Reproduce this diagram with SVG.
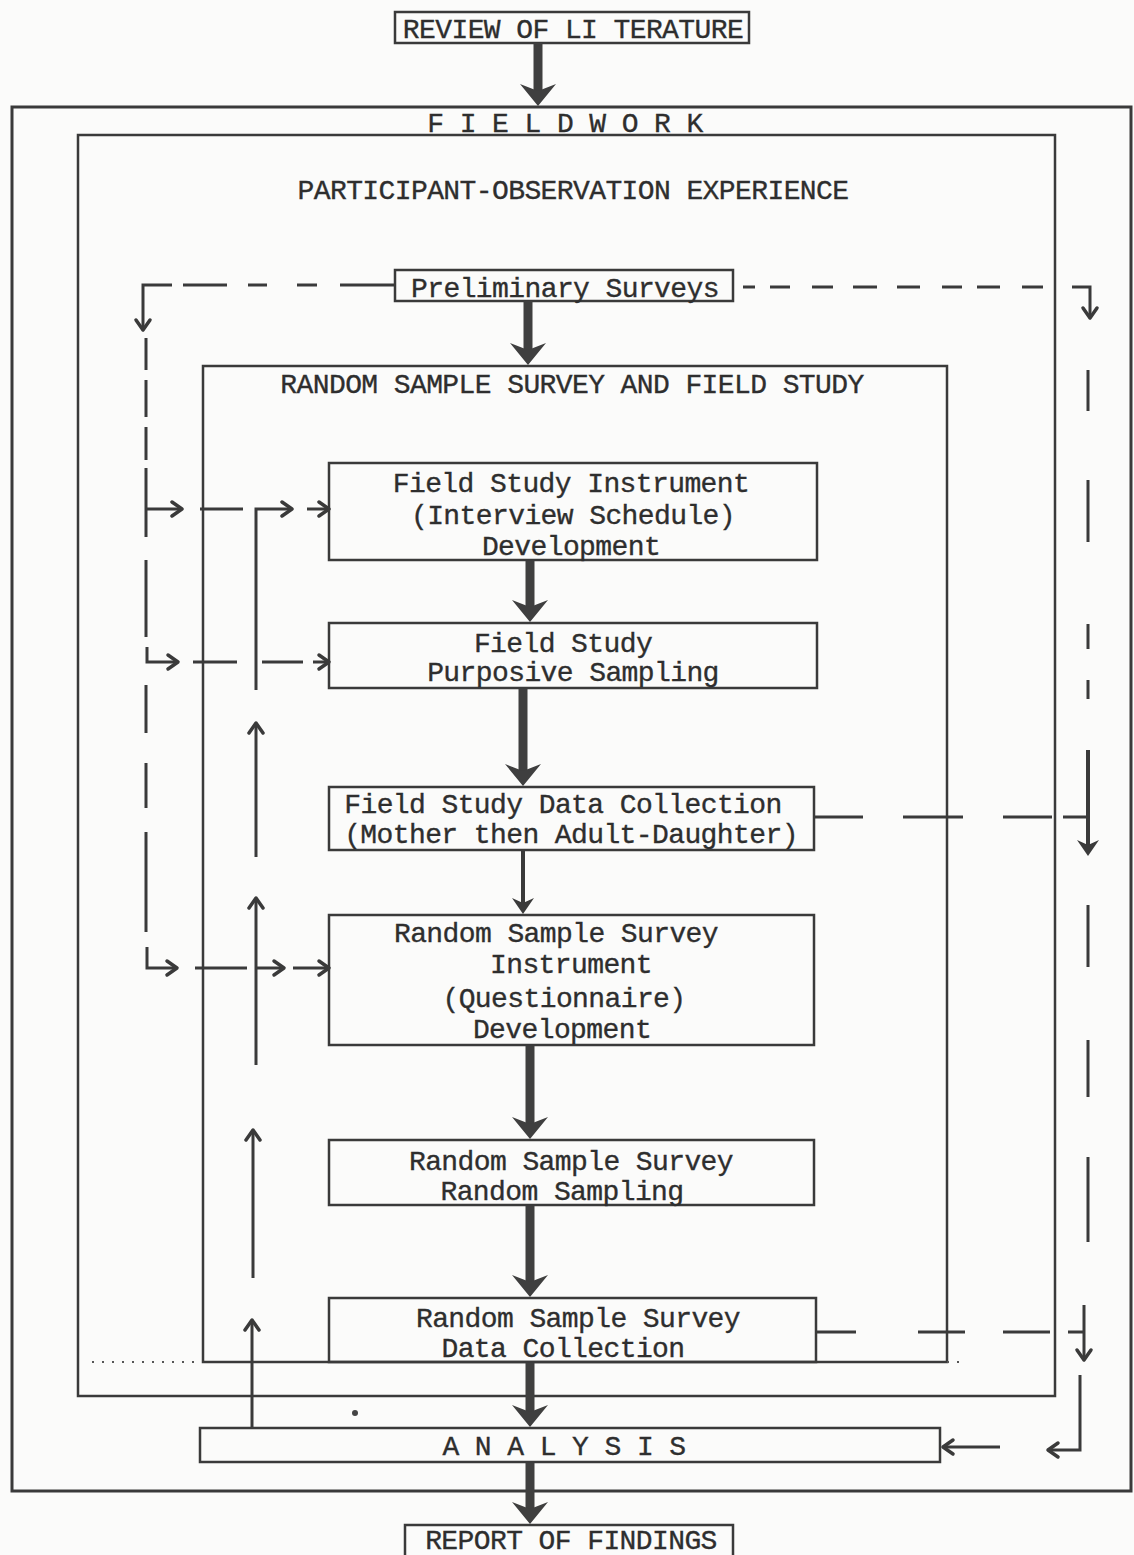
<svg xmlns="http://www.w3.org/2000/svg" width="1134" height="1555" viewBox="0 0 1134 1555">
<style>
.box{fill:none;stroke:#3a3a3a;stroke-width:2.5}
.frame{fill:none;stroke:#3a3a3a;stroke-width:3}
.t{font-family:"Liberation Mono","DejaVu Sans Mono",monospace;font-size:28px;letter-spacing:-0.6px;fill:#2e2e2e;stroke:#2e2e2e;stroke-width:0.35;text-anchor:middle}
.thick{stroke:#3f3f3f;stroke-width:9;fill:none;marker-end:url(#big)}
.med{stroke:#3a3a3a;stroke-width:4;fill:none;marker-end:url(#mid)}
.ln{stroke:#3a3a3a;stroke-width:3;fill:none}
.arr{marker-end:url(#chev)}
.dot{stroke:#555;stroke-width:2;stroke-dasharray:2 8;fill:none}
</style>
<defs>
<marker id="big" viewBox="0 0 22 36" markerUnits="userSpaceOnUse" markerWidth="22" markerHeight="36" refX="7" refY="18" orient="auto"><path d="M0,0 L22,18 L0,36 L7,18 z" fill="#3f3f3f"/></marker>
<marker id="mid" viewBox="0 0 16 22" markerUnits="userSpaceOnUse" markerWidth="16" markerHeight="22" refX="5" refY="11" orient="auto"><path d="M0,0 L16,11 L0,22 L5,11 z" fill="#3a3a3a"/></marker>
<marker id="chev" viewBox="-2 -2 16 20" markerUnits="userSpaceOnUse" markerWidth="16" markerHeight="20" refX="11" refY="8" orient="auto" overflow="visible"><path d="M1,1 L11,8 L1,15" fill="none" stroke="#3a3a3a" stroke-width="3.5" stroke-linecap="round" stroke-linejoin="round"/></marker>
</defs>
<rect width="1134" height="1555" fill="#fbfbfa"/>

<g id="fieldwork"><rect class="frame" x="12" y="107" width="1119" height="1384"/><text class="t" x="565" y="132">F I E L D W O R K</text></g>
<g id="participant-observation"><rect class="box" x="78" y="135" width="977" height="1261"/><text class="t" x="573" y="199">PARTICIPANT-OBSERVATION EXPERIENCE</text></g>
<g id="random-sample-survey"><rect class="box" x="203" y="366" width="744" height="996"/><text class="t" x="572" y="393">RANDOM SAMPLE SURVEY AND FIELD STUDY</text></g>
<g id="review"><rect class="box" x="395" y="12" width="354" height="31"/><text class="t" x="573" y="38">REVIEW OF LI TERATURE</text></g>
<g id="preliminary"><rect class="box" x="395" y="270" width="338" height="31"/><text class="t" x="565" y="297">Preliminary Surveys</text></g>
<g id="fs-instrument"><rect class="box" x="329" y="463" width="488" height="97"/><text class="t" x="571" y="492">Field Study Instrument</text><text class="t" x="573" y="524">(Interview Schedule)</text><text class="t" x="571" y="555">Development</text></g>
<g id="fs-sampling"><rect class="box" x="329" y="623" width="488" height="65"/><text class="t" x="563" y="652">Field Study</text><text class="t" x="573" y="681">Purposive Sampling</text></g>
<g id="fs-data"><rect class="box" x="329" y="787" width="485" height="63"/><text class="t" x="563" y="813">Field Study Data Collection</text><text class="t" x="571" y="843">(Mother then Adult-Daughter)</text></g>
<g id="rss-instrument"><rect class="box" x="329" y="915" width="485" height="130"/><text class="t" x="556" y="942">Random Sample Survey</text><text class="t" x="571" y="973">Instrument</text><text class="t" x="564" y="1007">(Questionnaire)</text><text class="t" x="562" y="1038">Development</text></g>
<g id="rss-sampling"><rect class="box" x="329" y="1140" width="485" height="65"/><text class="t" x="571" y="1170">Random Sample Survey</text><text class="t" x="562" y="1200">Random Sampling</text></g>
<g id="rss-data"><rect class="box" x="329" y="1298" width="487" height="64"/><text class="t" x="578" y="1327">Random Sample Survey</text><text class="t" x="563" y="1357">Data Collection</text></g>
<g id="analysis"><rect class="box" x="200" y="1428" width="740" height="34"/><text class="t" x="564" y="1455">A N A L Y S I S</text></g>
<g id="report"><rect class="box" x="405" y="1525" width="328" height="45"/><text class="t" x="571" y="1549">REPORT OF FINDINGS</text></g>

<g id="connectors">
<line class="thick" x1="538" y1="43" x2="538" y2="91"/>
<line class="thick" x1="528" y1="301" x2="528" y2="350"/>
<line class="thick" x1="530" y1="561" x2="530" y2="607"/>
<line class="thick" x1="523" y1="689" x2="523" y2="771"/>
<line class="med" x1="523" y1="851" x2="523" y2="903"/>
<line class="thick" x1="530" y1="1046" x2="530" y2="1124"/>
<line class="thick" x1="530" y1="1206" x2="530" y2="1282"/>
<line class="thick" x1="530" y1="1363" x2="530" y2="1412"/>
<line class="thick" x1="530" y1="1463" x2="530" y2="1509"/>

<path class="ln" d="M183,285H227M248,285H267M297,285H317M340,285H395"/>
<path class="ln arr" d="M172,285H143V330"/>
<path class="ln" d="M146,338V370M146,380V417M146,427V460M146,468V537M146,560V637M146,685V733M146,763V808M146,832V932"/>
<path class="ln arr" d="M146,509H182"/>
<path class="ln arr" d="M147,647V662H178"/>
<path class="ln arr" d="M147,947V968H177"/>
<path class="ln" d="M200,509H243"/>
<path class="ln arr" d="M256,690V509H292"/>
<path class="ln arr" d="M307,509H329"/>
<path class="ln" d="M193,662H237M262,662H303"/>
<path class="ln arr" d="M313,662H329"/>
<path class="ln" d="M195,968H247"/>
<path class="ln arr" d="M257,968H284"/>
<path class="ln arr" d="M293,968H329"/>
<path class="ln arr" d="M256,857V723"/>
<path class="ln arr" d="M256,1065V898"/>
<path class="ln arr" d="M253,1278V1130"/>
<path class="ln arr" d="M252,1428V1320"/>

<path class="ln" d="M743,287H755M770,287H790M812,287H833M853,287H877M897,287H920M942,287H962M977,287H1000M1022,287H1043"/>
<path class="ln arr" d="M1072,287H1090V318"/>
<path class="ln" d="M1088,370V411M1088,480V542M1088,624V649M1088,680V699M1088,905V967M1088,1040V1097M1088,1157V1242"/>
<path class="med" d="M1088,750V845"/>
<path class="ln" d="M814,817H863M903,817H963M1003,817H1052M1063,817H1088"/>
<path class="ln" d="M816,1332H856M918,1332H965M1003,1332H1050M1068,1332H1084"/>
<path class="ln arr" d="M1084,1305V1360"/>
<path class="ln arr" d="M1080,1375V1450H1048"/>
<path class="ln arr" d="M1000,1447H943"/>
<path class="dot" d="M92,1362H202M947,1362H962"/>
</g>
<circle cx="355" cy="1413" r="3" fill="#444"/>
</svg>
